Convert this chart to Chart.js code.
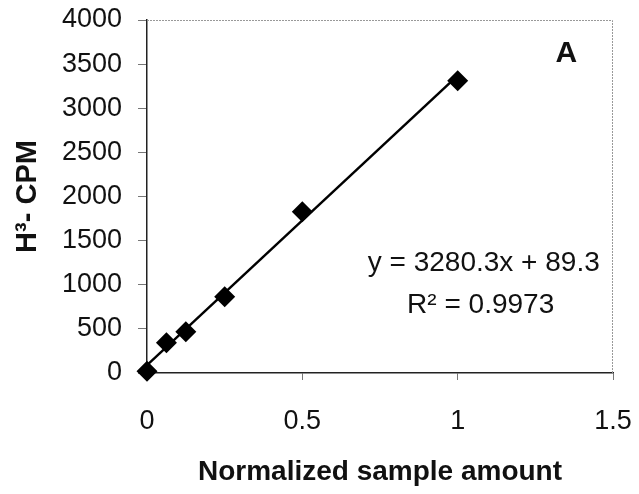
<!DOCTYPE html>
<html>
<head>
<meta charset="utf-8">
<script src="https://cdn.jsdelivr.net/npm/chart.js@4"></script>
<style>
  html, body { margin: 0; padding: 0; background: #fff; }
  #wrap { width: 639px; height: 494px; }
</style>
</head>
<body>
<div id="wrap"><canvas id="chart1" width="639" height="494"></canvas></div>
<script>
// data
const sampleAmount = [0, 0.0625, 0.125, 0.25, 0.5, 1];
const cpm = [20, 343, 468, 865, 1828, 3312];
// trendline given by the equation in the figure
const slope = 3280.3;
const intercept = 89.3;
const trendX = [0, 1];
const trendY = [intercept, slope * 1 + intercept];
const xTicks = [0, 0.5, 1, 1.5];
const yTicks = [0, 500, 1000, 1500, 2000, 2500, 3000, 3500, 4000];

const font = 'Liberation Sans, Arial, sans-serif';

// dotted frame on top and right, plus the text labels
const extras = {
    id: 'extras',
    afterDraw(chart) {
        const ctx = chart.ctx;
        const a = chart.chartArea;
        const x = chart.scales.x, y = chart.scales.y;
        ctx.save();
        ctx.strokeStyle = '#999';
        ctx.lineWidth = 1;
        ctx.setLineDash([2, 1]);
        ctx.beginPath();
        ctx.moveTo(a.left, a.top + 0.5);
        ctx.lineTo(a.right - 0.5, a.top + 0.5);
        ctx.lineTo(a.right - 0.5, a.bottom);
        ctx.stroke();
        ctx.setLineDash([]);

        ctx.fillStyle = '#111';
        ctx.textAlign = 'center';
        ctx.textBaseline = 'middle';
        ctx.font = 'bold 30px ' + font;
        ctx.fillText('A', x.getPixelForValue(1.35), y.getPixelForValue(3620));
        ctx.font = '28px ' + font;
        ctx.fillText('y = 3280.3x + 89.3', x.getPixelForValue(1.084), y.getPixelForValue(1246));
        ctx.fillText('R² = 0.9973', x.getPixelForValue(1.074), y.getPixelForValue(770));
        ctx.restore();
    }
};

new Chart(document.getElementById('chart1'), {
    type: 'scatter',
    data: {
        datasets: [{
            label: 'Trend',
            data: trendX.map((v, i) => ({ x: v, y: trendY[i] })),
            showLine: true,
            borderColor: '#000',
            borderWidth: 2.5,
            pointRadius: 0
        }, {
            label: 'CPM',
            data: sampleAmount.map((v, i) => ({ x: v, y: cpm[i] })),
            pointStyle: 'rectRot',
            pointRadius: 10.5,
            pointHoverRadius: 10.5,
            backgroundColor: '#000',
            borderColor: '#000',
            borderWidth: 0,
            clip: false
        }]
    },
    options: {
        responsive: false,
        animation: false,
        events: [],
        layout: { padding: { top: 20, right: 26, bottom: 0, left: 0 } },
        plugins: {
            legend: { display: false },
            tooltip: { enabled: false }
        },
        scales: {
            x: {
                type: 'linear',
                min: 0,
                max: 1.5,
                afterBuildTicks: s => { s.ticks = xTicks.map(v => ({ value: v })); },
                afterFit: s => { s.height = 121; s.paddingLeft = 0; s.paddingRight = 0; },
                grid: { drawOnChartArea: false, drawTicks: true, tickLength: 7, color: '#777' },
                border: { display: true, color: '#222', width: 1.5 },
                ticks: {
                    color: '#111', font: { family: font, size: 27 }, padding: 25, maxRotation: 0,
                    callback: v => String(v)
                },
                title: {
                    display: true,
                    text: 'Normalized sample amount',
                    color: '#111',
                    font: { family: font, size: 28, weight: 'bold' },
                    padding: { top: 0, bottom: 5 }
                }
            },
            y: {
                type: 'linear',
                min: 0,
                max: 4000,
                afterBuildTicks: s => { s.ticks = yTicks.map(v => ({ value: v })); },
                afterFit: s => { s.width = 147; s.paddingTop = 0; s.paddingBottom = 0; },
                grid: { drawOnChartArea: false, drawTicks: true, tickLength: 9, color: '#777' },
                border: { display: true, color: '#222', width: 1.5 },
                ticks: {
                    color: '#111', font: { family: font, size: 27 }, padding: 16,
                    callback: v => String(v)
                },
                title: {
                    display: true,
                    text: 'H³- CPM',
                    color: '#111',
                    font: { family: font, size: 29, weight: 'bold' },
                    padding: { top: 11, bottom: 0 }
                }
            }
        }
    },
    plugins: [extras]
});
</script>
</body>
</html>
